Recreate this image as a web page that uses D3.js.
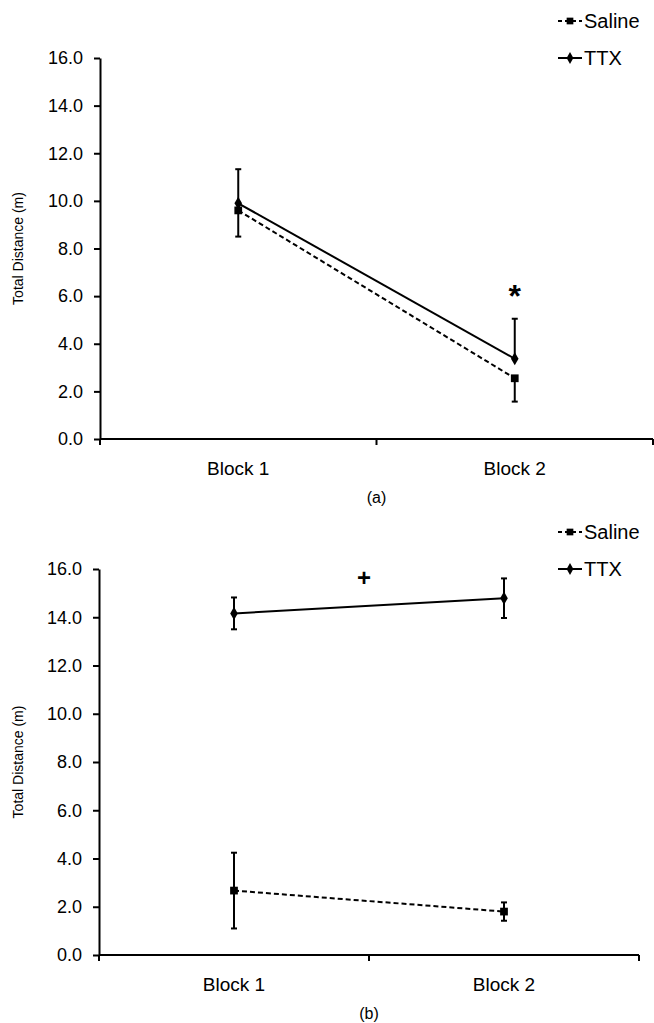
<!DOCTYPE html>
<html>
<head>
<meta charset="utf-8">
<script src="https://cdn.jsdelivr.net/npm/d3@7"></script>
<style>
  body { margin: 0; background: #fff; }
  text { font-family: "Liberation Sans", Arial, sans-serif; fill: #000; }
</style>
</head>
<body>
<div id="chart"></div>
<script>
// data
const blocks = ["Block 1", "Block 2"];
const yTicks = [0, 2, 4, 6, 8, 10, 12, 14, 16];
const seriesNames = ["Saline", "TTX"];

// panel (a)
const salineA = [9.6, 2.55];
const salineUpA = [0, 0];
const salineDownA = [1.1, 0.98];
const ttxA = [9.9, 3.37];
const ttxUpA = [1.43, 1.68];
const ttxDownA = [0, 0];

// panel (b)
const salineB = [2.67, 1.8];
const salineUpB = [1.57, 0.38];
const salineDownB = [1.57, 0.38];
const ttxB = [14.16, 14.79];
const ttxUpB = [0.66, 0.82];
const ttxDownB = [0.66, 0.82];

const svg = d3.select("#chart").append("svg")
  .attr("width", 654)
  .attr("height", 1023);

function drawPanel(opt) {
  const g = svg.append("g");

  const y = d3.scaleLinear().domain([0, 16]).range([opt.bottom, opt.top]);
  const x = d3.scaleBand().domain(blocks).range([opt.left, opt.right]);
  const cx = (d) => x(d) + x.bandwidth() / 2;

  // y axis
  const yAxis = g.append("g")
    .attr("transform", "translate(" + opt.left + ",0)")
    .call(d3.axisLeft(y).tickValues(yTicks).tickFormat(d3.format(".1f")).tickSize(6).tickSizeOuter(0));
  yAxis.select(".domain").attr("stroke-width", 2);
  yAxis.selectAll(".tick line").attr("stroke-width", 2);
  yAxis.selectAll(".tick text").style("font-size", "18px").attr("x", -17);

  // x axis, ticks at band edges
  const xAxis = g.append("g")
    .attr("transform", "translate(0," + opt.bottom + ")");
  xAxis.append("line")
    .attr("x1", opt.left).attr("x2", opt.right)
    .attr("stroke", "#000").attr("stroke-width", 2);
  const edges = blocks.map((d) => x(d)).concat([opt.right]);
  xAxis.selectAll(".edge").data(edges).enter().append("line")
    .attr("class", "edge")
    .attr("x1", (d) => d).attr("x2", (d) => d)
    .attr("y1", 0).attr("y2", 6)
    .attr("stroke", "#000").attr("stroke-width", 2);
  xAxis.selectAll(".lbl").data(blocks).enter().append("text")
    .attr("class", "lbl")
    .attr("x", (d) => cx(d))
    .attr("y", 36)
    .attr("text-anchor", "middle")
    .style("font-size", "19px")
    .text((d) => d);

  // y axis title
  g.append("text")
    .attr("transform", "translate(23," + (opt.top + opt.bottom) / 2 + ") rotate(-90)")
    .attr("text-anchor", "middle")
    .style("font-size", "14px")
    .text("Total Distance (m)");

  // panel letter
  g.append("text")
    .attr("x", cx(blocks[0]) / 2 + cx(blocks[1]) / 2)
    .attr("y", opt.bottom + 64)
    .attr("text-anchor", "middle")
    .style("font-size", "16px")
    .text(opt.letter);

  const series = [
    { name: "Saline", vals: opt.saline, up: opt.salineUp, down: opt.salineDown, dash: "5,3", marker: "square" },
    { name: "TTX", vals: opt.ttx, up: opt.ttxUp, down: opt.ttxDown, dash: null, marker: "diamond" }
  ];

  const line = d3.line().x((d) => cx(d.b)).y((d) => y(d.v));

  series.forEach((s) => {
    const pts = blocks.map((b, i) => ({ b: b, v: s.vals[i], up: s.up[i], down: s.down[i] }));

    // error bars
    pts.forEach((p) => {
      const x0 = cx(p.b);
      const hi = p.v + p.up, lo = p.v - p.down;
      g.append("line")
        .attr("x1", x0).attr("x2", x0)
        .attr("y1", y(hi)).attr("y2", y(lo))
        .attr("stroke", "#000").attr("stroke-width", 2);
      [hi, lo].forEach((e, k) => {
        if ((k === 0 && p.up > 0) || (k === 1 && p.down > 0)) {
          g.append("line")
            .attr("x1", x0 - 3).attr("x2", x0 + 3)
            .attr("y1", y(e)).attr("y2", y(e))
            .attr("stroke", "#000").attr("stroke-width", 2);
        }
      });
    });

    g.append("path")
      .datum(pts)
      .attr("d", line)
      .attr("fill", "none")
      .attr("stroke", "#000")
      .attr("stroke-width", 2)
      .attr("stroke-dasharray", s.dash);

    const sym = s.marker === "square" ? d3.symbolSquare : d3.symbolDiamond;
    const size = s.marker === "square" ? 60 : 50;
    g.selectAll(".m-" + s.name).data(pts).enter().append("path")
      .attr("class", "m-" + s.name)
      .attr("transform", (d) => "translate(" + cx(d.b) + "," + y(d.v) + ")")
      .attr("d", d3.symbol().type(sym).size(size))
      .attr("fill", "#000");
  });

  // legend
  const lg = g.append("g").attr("transform", "translate(" + opt.legendX + "," + opt.legendY + ")");
  series.forEach((s, i) => {
    const yy = i * 37;
    lg.append("line")
      .attr("x1", 0).attr("x2", 24)
      .attr("y1", yy).attr("y2", yy)
      .attr("stroke", "#000").attr("stroke-width", 2)
      .attr("stroke-dasharray", s.dash ? "4,3" : null);
    const sym = s.marker === "square" ? d3.symbolSquare : d3.symbolDiamond;
    lg.append("path")
      .attr("transform", "translate(12," + yy + ")")
      .attr("d", d3.symbol().type(sym).size(s.marker === "square" ? 45 : 40))
      .attr("fill", "#000");
    lg.append("text")
      .attr("x", 26).attr("y", yy + 7)
      .style("font-size", "20px")
      .text(s.name);
  });

  // significance mark
  g.append("text")
    .attr("x", cx(opt.markBlock) + opt.markDx)
    .attr("y", y(opt.markY))
    .attr("text-anchor", "middle")
    .style("font-size", opt.markSize)
    .style("font-weight", "bold")
    .text(opt.mark);
}

drawPanel({
  top: 58, bottom: 439, left: 100, right: 653, letter: "(a)",
  saline: salineA, salineUp: salineUpA, salineDown: salineDownA,
  ttx: ttxA, ttxUp: ttxUpA, ttxDown: ttxDownA,
  legendX: 558, legendY: 21,
  mark: "*", markBlock: "Block 2", markDx: 0, markY: 5.55, markSize: "32px"
});

drawPanel({
  top: 569, bottom: 955, left: 99, right: 639, letter: "(b)",
  saline: salineB, salineUp: salineUpB, salineDown: salineDownB,
  ttx: ttxB, ttxUp: ttxUpB, ttxDown: ttxDownB,
  legendX: 558, legendY: 532,
  mark: "+", markBlock: "Block 1", markDx: 130, markY: 15.3, markSize: "24px"
});
</script>
</body>
</html>
